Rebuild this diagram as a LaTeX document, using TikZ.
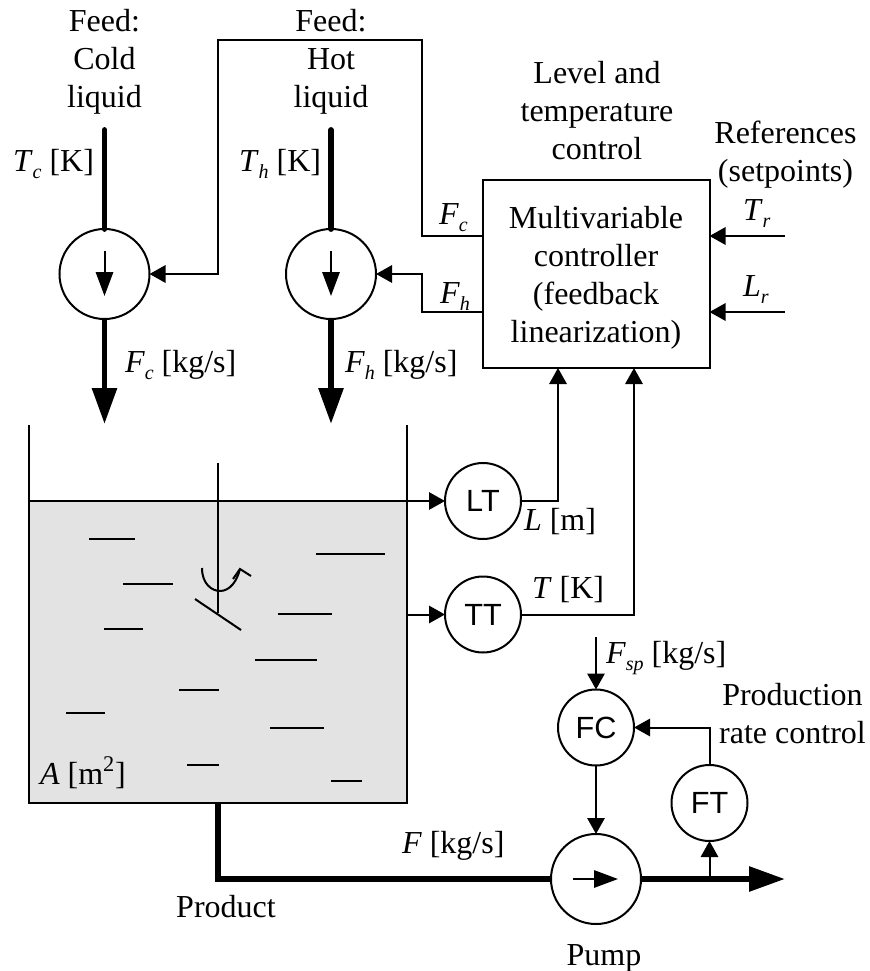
\documentclass[tikz,border=0pt]{standalone}
\usepackage{fontspec}
\setmainfont{Liberation Serif}
\newfontfamily\lsans{Liberation Sans}
\usetikzlibrary{arrows.meta,positioning}
\newcommand{\vsub}[1]{\raisebox{-0.22em}{\fontsize{15}{15}\selectfont\itshape #1}}
\tikzset{
  wire/.style={line width=1.5pt,line join=miter},
  sig/.style={wire,-{Triangle[length=12pt,width=13pt]}},
  pipe/.style={line width=4.4pt,line cap=round},
  pipearrow/.style={line width=4.4pt,-{Triangle[length=27pt,width=18pt]}},
  inner/.style={wire,-{Triangle[length=18pt,width=13pt]}},
  pumpc/.style={circle,draw,line width=1.5pt,fill=white,minimum size=67.5pt,inner sep=0pt,outer sep=0pt},
  inst/.style={circle,draw,line width=1.5pt,fill=white,minimum size=57pt,inner sep=0pt,outer sep=0pt,font=\lsans\fontsize{23}{23}\selectfont},
  txt/.style={inner sep=0pt,outer sep=0pt,font=\fontsize{24}{28.5}\selectfont},
  lbl/.style={txt,anchor=base west},
  mline/.style={txt,align=center,anchor=north},
  dashline/.style={line width=1.5pt}
}
\begin{document}
\begin{tikzpicture}[x=0.75pt,y=-0.75pt]
\useasboundingbox (0,0) rectangle (869,971);
% tank
\fill[fill=black!11] (29,501) rectangle (407,803);
\coordinate (tankL) at (29,501);
\coordinate (tankT) at (407,614.5);
\draw[wire] (29,425) -- (29,803) -- (407,803) -- (407,425);
% nodes
\node[pumpc] (pc) at (104.5,274) {};
\node[pumpc] (ph) at (331,274) {};
\node[pumpc] (pp) at (596,879) {};
\node[inst] (LT) at (483,501) {LT};
\node[inst] (TT) at (483,614.5) {TT};
\node[inst] (FC) at (596,727.5) {FC};
\node[inst] (FT) at (709.5,803) {FT};
\node[draw,line width=1.5pt,minimum width=170.25pt,minimum height=141.5pt,inner sep=0pt,outer sep=0pt,anchor=north west,txt,align=center] (ctl) at (482.5,179.5) {\rule{0pt}{22pt}Multivariable\\controller\\(feedback\\linearization)};
% feed pipes
\coordinate (cin) at (104.5,130);
\coordinate (hin) at (331,130);
\coordinate (cout) at (104.5,424);
\coordinate (hout) at (331,424);
\draw[pipe] (cin) -- (pc.north);
\draw[pipe] (hin) -- (ph.north);
\draw[pipearrow] (pc.south) -- (cout);
\draw[pipearrow] (ph.south) -- (hout);
% pump inner arrows
\draw[inner] (104.5,251) -- (104.5,296);
\draw[inner] (331,251) -- (331,296);
\draw[inner] (573,879) -- (618,879);
% control wires
\coordinate (cfc) at (ctl.west |- 0,236);
\coordinate (cfh) at (ctl.west |- 0,312);
\draw[sig] (cfc) -- (422,236) -- (422,40) -- (218,40) -- (218,274) -- (pc.east);
\draw[sig] (cfh) -- (422,312) -- (422,274) -- (ph.east);
\coordinate (tr) at (785,236);
\coordinate (lr) at (785,312);
\draw[sig] (tr) -- (tr -| ctl.east);
\draw[sig] (lr) -- (lr -| ctl.east);
\draw[sig] (LT.east) -- (558,501) -- (558,368);
\draw[sig] (TT.east) -- (634,614.5) -- (634,368);
\draw[sig] (tankL) -- (LT.west);
\draw[sig] (tankT) -- (TT.west);
\coordinate (fsp) at (596,637);
\draw[sig] (fsp) -- (FC.north);
\draw[sig] (FC.south) -- (pp.north);
\draw[sig] (FT.north) -- (FT.north |- FC.east) -- (FC.east);
% product line
\coordinate (tankb) at (218,803);
\coordinate (prodc) at (218,879);
\coordinate (out) at (785,879);
\coordinate (br) at (709.5,879);
\draw[pipe,line cap=butt,line join=miter] (tankb) -- (prodc) -- (pp.west);
\draw[pipearrow] (pp.east) -- (out);
\draw[sig] (br) -- (FT.south);
% agitator
\draw[wire] (218,463) -- (218,613);
\draw[wire] (195,599) -- (241,630);
\draw[wire] (202,568) .. controls (202,584) and (212,591) .. (220,591) .. controls (230,591) and (237,581) .. (240,569);
\draw[wire] (233,579) -- (240,569) -- (251,576);
% dashes
\foreach \y/\a/\b in {538.7/89/135,584/123/173,629.3/104/143,554/316/385,614.3/278/332,660/255/317,690/179/219,712.7/66/105,727.7/270/324,765.3/187/219,780.7/331/362}
  \draw[dashline] (\a,\y) -- (\b,\y);
% text
\node[mline] (t1) at (104.5,9) {Feed:\\Cold\\liquid};
\node[mline] (t2) at (331,9) {Feed:\\Hot\\liquid};
\node[mline] (t3) at (597,61) {Level and\\temperature\\control};
\node[mline] (t4) at (785.5,121) {References\\(setpoints)};
\node[mline] (t5) at (792.5,683) {Production\\rate control};
\node[lbl] (l1) at (13,171) {\textit{T}\vsub{c} [K]};
\node[lbl] (l2) at (239,171) {\textit{T}\vsub{h} [K]};
\node[lbl] (l3) at (125,372) {\textit{F}\vsub{c} [kg/s]};
\node[lbl] (l4) at (345,372) {\textit{F}\vsub{h} [kg/s]};
\node[lbl] (l5) at (439,224) {\textit{F}\vsub{c}};
\node[lbl] (l6) at (440,303) {\textit{F}\vsub{h}};
\node[lbl] (l7) at (743,220) {\textit{T}\vsub{r}};
\node[lbl] (l8) at (743,296) {\textit{L}\vsub{r}};
\node[lbl] (l9) at (524,530) {\textit{L} [m]};
\node[lbl] (l10) at (532,598) {\textit{T} [K]};
\node[lbl] (l11) at (606,663) {\textit{F}\vsub{sp} [kg/s]};
\node[lbl] (l12) at (402,853) {\textit{F} [kg/s]};
\node[lbl] (l13) at (40,784) {\textit{A} [m\textsuperscript{2}]};
\node[txt,anchor=base] (l14) at (226,917) {Product};
\node[txt,anchor=base] (l15) at (604,965) {Pump};
\end{tikzpicture}
\end{document}
